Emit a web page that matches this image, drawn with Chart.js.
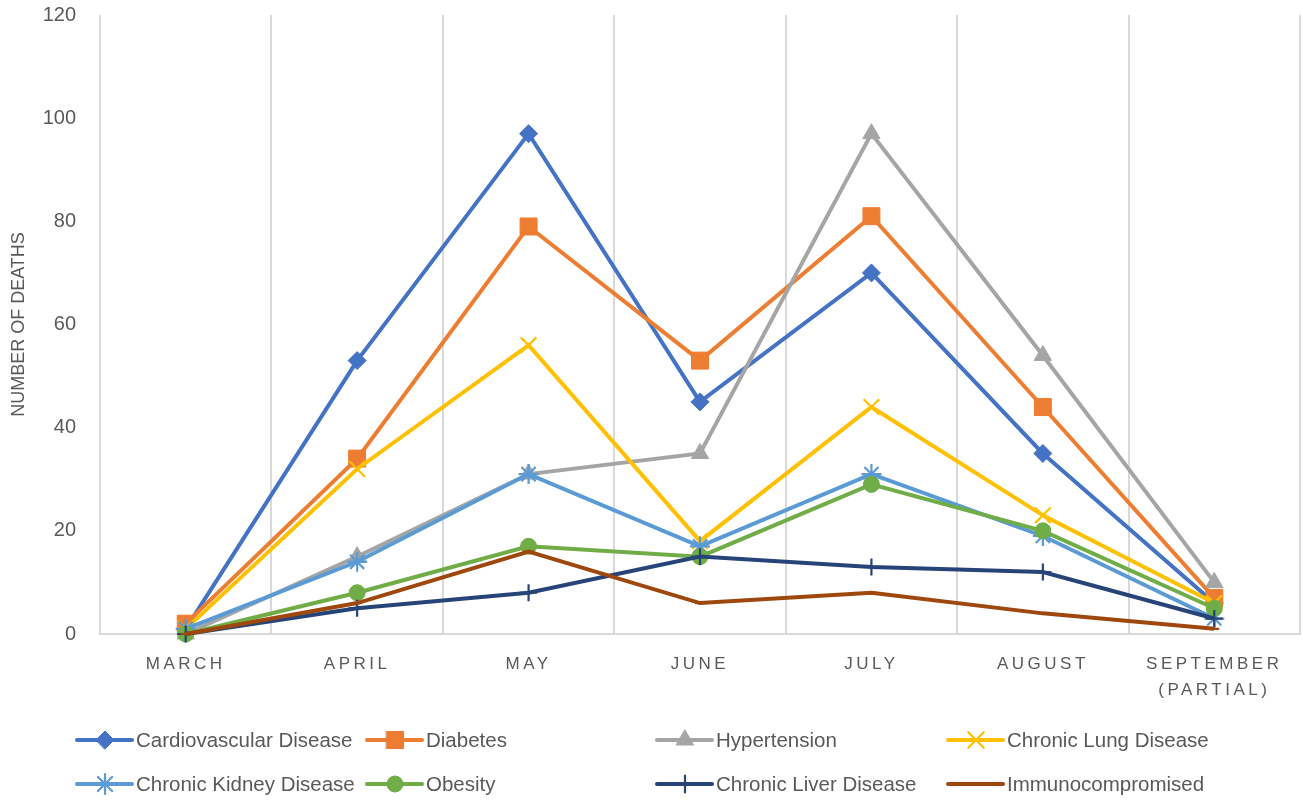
<!DOCTYPE html>
<html>
<head>
<meta charset="utf-8">
<script src="https://cdn.jsdelivr.net/npm/chart.js@4.4.0/dist/chart.umd.min.js"></script>
<style>
  html, body { margin: 0; padding: 0; background: #fff; }
</style>
</head>
<body>
<canvas id="deathsChart" width="1303" height="800"></canvas>
<script>
// data
const months = ['MARCH', 'APRIL', 'MAY', 'JUNE', 'JULY', 'AUGUST', ['SEPTEMBER', '(PARTIAL)']];
const cardiovascular = [1, 53, 97, 45, 70, 35, 6];
const diabetes = [2, 34, 79, 53, 81, 44, 7];
const hypertension = [0, 15, 31, 35, 97, 54, 10];
const chronicLung = [1, 32, 56, 18, 44, 23, 6];
const chronicKidney = [1, 14, 31, 17, 31, 19, 3];
const obesity = [0, 8, 17, 15, 29, 20, 5];
const chronicLiver = [0, 5, 8, 15, 13, 12, 3];
const immunocompromised = [0, 6, 16, 6, 8, 4, 1];
const yMin = 0, yMax = 120, yStep = 20;

const textColor = '#595959';
const gridColor = '#d9d9d9';

const series = [
    { label: 'Cardiovascular Disease', data: cardiovascular, color: '#4472C4', style: 'rectRot', r: 9 },
    { label: 'Diabetes', data: diabetes, color: '#ED7D31', style: 'rect', r: 12 },
    { label: 'Hypertension', data: hypertension, color: '#A5A5A5', style: 'triangle', r: 10 },
    { label: 'Chronic Lung Disease', data: chronicLung, color: '#FFC000', style: 'crossRot', r: 11 },
    { label: 'Chronic Kidney Disease', data: chronicKidney, color: '#5B9BD5', style: 'star', r: 10 },
    { label: 'Obesity', data: obesity, color: '#70AD47', style: 'circle', r: 8 },
    { label: 'Chronic Liver Disease', data: chronicLiver, color: '#264478', style: 'cross', r: 8.5 },
    { label: 'Immunocompromised', data: immunocompromised, color: '#9E480E', style: 'line', r: 5 }
];

const thinMarks = ['cross', 'crossRot', 'star', 'line'];

const datasets = series.map((s, i) => ({
    label: s.label,
    data: s.data,
    borderColor: s.color,
    backgroundColor: s.color,
    borderWidth: 4,
    pointStyle: s.style,
    pointRadius: s.r,
    pointBorderWidth: thinMarks.includes(s.style) ? 2.2 : 1,
    pointBackgroundColor: s.color,
    pointBorderColor: s.color,
    tension: 0,
    clip: false,
    order: series.length - i
}));

// x labels are letter spaced in the original
const spacedLabels = {
    id: 'spacedLabels',
    beforeDraw(chart) {
        const sx = chart.scales.x;
        if (sx._spaced) return;
        const orig = sx.drawLabels.bind(sx);
        sx.drawLabels = function (area) {
            chart.ctx.save();
            chart.ctx.letterSpacing = '3.5px';
            orig(area);
            chart.ctx.restore();
        };
        sx._spaced = true;
    }
};

// legend laid out in a 4 column grid like the original
const gridLegend = {
    id: 'gridLegend',
    afterDraw(chart) {
        const ctx = chart.ctx;
        const colX = [77, 367, 657, 948];
        const rowY = [740, 784];
        ctx.save();
        chart.data.datasets.forEach((ds, i) => {
            const x = colX[i % 4];
            const y = rowY[Math.floor(i / 4)];
            ctx.strokeStyle = ds.borderColor;
            ctx.lineWidth = 4;
            ctx.lineCap = 'round';
            ctx.beginPath();
            ctx.moveTo(x, y);
            ctx.lineTo(x + 55, y);
            ctx.stroke();
            ctx.fillStyle = ds.backgroundColor;
            ctx.lineWidth = ds.pointBorderWidth;
            Chart.helpers.drawPoint(ctx, {
                pointStyle: ds.pointStyle,
                radius: ds.pointRadius,
                rotation: 0,
                borderWidth: ds.pointBorderWidth
            }, x + 28, y);
            ctx.fillStyle = textColor;
            ctx.font = '20.5px "Liberation Sans", Arial, sans-serif';
            ctx.textBaseline = 'middle';
            ctx.textAlign = 'left';
            ctx.fillText(ds.label, x + 59, y + 1);
        });
        ctx.restore();
    }
};

const config = {
    type: 'line',
    data: {
        labels: months,
        datasets: datasets
    },
    options: {
        responsive: false,
        animation: false,
        layout: {
            autoPadding: false,
            padding: { top: 15, right: 3, bottom: 100, left: 0 }
        },
        scales: {
            x: {
                offset: true,
                afterFit: (scale) => {
                    scale.height = 66;
                    scale.paddingLeft = 0;
                    scale.paddingRight = 0;
                },
                grid: {
                    offset: true,
                    color: gridColor,
                    lineWidth: 2,
                    drawTicks: false
                },
                border: { color: gridColor, width: 2 },
                ticks: {
                    color: textColor,
                    font: { family: '"Liberation Sans", Arial, sans-serif', size: 17, lineHeight: 1.55 },
                    padding: 17,
                    maxRotation: 0,
                    autoSkip: false
                }
            },
            y: {
                min: yMin,
                max: yMax,
                afterFit: (scale) => {
                    scale.width = 100;
                    scale.paddingTop = 0;
                    scale.paddingBottom = 0;
                },
                grid: { display: false, drawTicks: false },
                border: { display: false },
                ticks: {
                    stepSize: yStep,
                    color: textColor,
                    font: { family: '"Liberation Sans", Arial, sans-serif', size: 20 },
                    padding: 24
                },
                title: {
                    display: true,
                    text: 'NUMBER OF DEATHS',
                    color: textColor,
                    font: { family: '"Liberation Sans", Arial, sans-serif', size: 18 },
                    padding: { top: 8, bottom: 0 }
                }
            }
        },
        plugins: {
            legend: { display: false },
            tooltip: { enabled: false }
        }
    },
    plugins: [spacedLabels, gridLegend]
};

const deathsChart = new Chart(
    document.getElementById('deathsChart'),
    config
);
</script>
</body>
</html>
